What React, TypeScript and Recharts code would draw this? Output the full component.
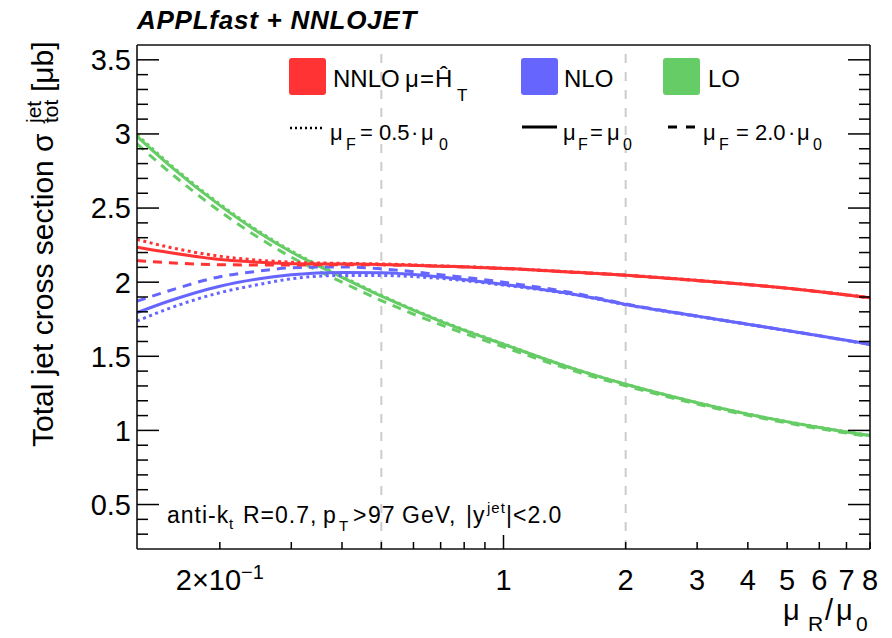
import { LineChart, Line, XAxis, YAxis, ReferenceLine } from 'recharts'

const FONT = '"Liberation Sans", Arial, Helvetica, sans-serif'

const RED = '#ff3333'
const BLUE = '#6666ff'
const GREEN = '#66cc66'

// renormalisation scale, in units of mu0
const muR = [0.125, 0.15, 0.2, 0.25, 0.3, 0.4, 0.5, 0.7, 1, 1.5, 2, 3, 4, 6, 8]

// total jet cross section [ub] for muF = 0.5, 1, 2 x mu0
const nnloF05 = [2.288, 2.236, 2.175, 2.148, 2.135, 2.127, 2.123, 2.11, 2.094, 2.068, 2.048, 2.012, 1.984, 1.937, 1.895]
const nnloF1 = [2.236, 2.2, 2.153, 2.135, 2.125, 2.122, 2.12, 2.108, 2.093, 2.067, 2.047, 2.011, 1.984, 1.936, 1.895]
const nnloF2 = [2.146, 2.131, 2.118, 2.116, 2.116, 2.118, 2.117, 2.107, 2.092, 2.066, 2.046, 2.01, 1.983, 1.936, 1.894]

const nloF05 = [1.738, 1.823, 1.929, 1.985, 2.023, 2.045, 2.045, 2.025, 1.98, 1.915, 1.848, 1.769, 1.715, 1.637, 1.58]
const nloF1 = [1.794, 1.873, 1.973, 2.023, 2.05, 2.066, 2.064, 2.035, 1.985, 1.917, 1.85, 1.771, 1.716, 1.638, 1.581]
const nloF2 = [1.872, 1.942, 2.037, 2.075, 2.097, 2.103, 2.09, 2.05, 2.0, 1.925, 1.853, 1.772, 1.717, 1.638, 1.58]

const loF05 = [2.995, 2.8, 2.527, 2.342, 2.211, 2.039, 1.911, 1.74, 1.584, 1.414, 1.312, 1.188, 1.111, 1.021, 0.966]
const loF1 = [2.983, 2.79, 2.518, 2.334, 2.204, 2.033, 1.906, 1.736, 1.581, 1.413, 1.311, 1.187, 1.11, 1.02, 0.965]
const loF2 = [2.933, 2.745, 2.478, 2.298, 2.169, 2.0, 1.876, 1.713, 1.563, 1.4, 1.301, 1.178, 1.102, 1.012, 0.958]

const xTickValues = [0.2, 0.3, 0.4, 0.5, 0.6, 0.7, 0.8, 0.9, 1, 2, 3, 4, 5, 6, 7, 8]
const xTickLabels: Record<string, string> = { '1': '1', '2': '2', '3': '3', '4': '4', '5': '5', '6': '6', '7': '7', '8': '8' }
const yMajorTicks = [0.5, 1, 1.5, 2, 2.5, 3, 3.5]
const yTickValues = Array.from({ length: 33 }, (_, i) => Math.round(3 + i) / 10)

// dashed guide lines at the scale-variation band edges
const bandEdges = [0.5, 2]

const rows = muR.map((m, i) => ({
  muR: m,
  nnloF05: nnloF05[i], nnloF1: nnloF1[i], nnloF2: nnloF2[i],
  nloF05: nloF05[i], nloF1: nloF1[i], nloF2: nloF2[i],
  loF05: loF05[i], loF1: loF1[i], loF2: loF2[i],
}))

const DOTTED = '3 3.5'
const DASHED = '9 7'

const series = [
  { key: 'loF2', color: GREEN, dash: DASHED },
  { key: 'loF1', color: GREEN, dash: undefined },
  { key: 'loF05', color: GREEN, dash: DOTTED },
  { key: 'nloF2', color: BLUE, dash: DASHED },
  { key: 'nloF1', color: BLUE, dash: undefined },
  { key: 'nloF05', color: BLUE, dash: DOTTED },
  { key: 'nnloF2', color: RED, dash: DASHED },
  { key: 'nnloF1', color: RED, dash: undefined },
  { key: 'nnloF05', color: RED, dash: DOTTED },
]

const LeftTick = (p: any) => {
  const v = p.payload.value
  const major = yMajorTicks.includes(v)
  return (
    <g>
      <line x1={p.x} x2={p.x + (major ? 22 : 11)} y1={p.y} y2={p.y} stroke="#000" strokeWidth={1.5} />
      {major && (
        <text x={p.x - 6} y={p.y} dy="0.36em" textAnchor="end" fontSize={29} fontFamily={FONT} fill="#000">
          {v}
        </text>
      )}
    </g>
  )
}

const RightTick = (p: any) => {
  const v = p.payload.value
  const major = yMajorTicks.includes(v)
  return <line x1={p.x} x2={p.x - (major ? 22 : 11)} y1={p.y} y2={p.y} stroke="#000" strokeWidth={1.5} />
}

const BottomTick = (p: any) => {
  const v = p.payload.value
  const len = v === 1 ? 14 : 7
  const label = xTickLabels[String(v)]
  return (
    <g>
      <line x1={p.x} x2={p.x} y1={p.y} y2={p.y - len} stroke="#000" strokeWidth={1.5} />
      {v === 0.2 && (
        <text x={p.x} y={p.y + 41} textAnchor="middle" fontSize={29} fontFamily={FONT} fill="#000">
          2×10<tspan dy={-11} fontSize={20}>−1</tspan>
        </text>
      )}
      {label && (
        <text x={p.x} y={p.y + 41} textAnchor="middle" fontSize={29} fontFamily={FONT} fill="#000">
          {label}
        </text>
      )}
    </g>
  )
}

const frame = { stroke: '#111', strokeWidth: 1.6 }

function Overlay() {
  const t = { fontFamily: FONT, fill: '#000' }
  return (
    <svg width={892} height={638} style={{ position: 'absolute', left: 0, top: 0, pointerEvents: 'none' }}>
      <text x={137} y={29} fontSize={26} fontWeight="bold" fontStyle="italic" letterSpacing={0.75} {...t}>
        APPLfast + NNLOJET
      </text>

      {/* legend, first row: orders */}
      <rect x={289} y={58} width={37} height={37} rx={3} fill={RED} />
      <text y={87} fontSize={24} {...t}>
        <tspan x={333}>NNLO</tspan>
        <tspan x={405}>μ</tspan>
        <tspan x={420}>=</tspan>
        <tspan x={435}>Ĥ</tspan>
        <tspan x={457} dy={14} fontSize={17}>T</tspan>
      </text>
      <rect x={521} y={58} width={37} height={37} rx={3} fill={BLUE} />
      <text x={564} y={87} fontSize={24} {...t}>NLO</text>
      <rect x={663} y={58} width={37} height={37} rx={3} fill={GREEN} />
      <text x={708} y={87} fontSize={24} {...t}>LO</text>

      {/* legend, second row: factorisation scale */}
      <line x1={290} x2={323} y1={128} y2={128} stroke="#000" strokeWidth={2.5} strokeDasharray="2 3" />
      <text y={140} fontSize={22} {...t}>
        <tspan x={330}>μ</tspan>
        <tspan x={346} dy={10} fontSize={16}>F</tspan>
        <tspan x={360} dy={-10}>=</tspan>
        <tspan x={379}>0.5</tspan>
        <tspan x={411}>·</tspan>
        <tspan x={421}>μ</tspan>
        <tspan x={439} dy={10} fontSize={16}>0</tspan>
      </text>
      <line x1={522} x2={557} y1={127} y2={127} stroke="#000" strokeWidth={3} />
      <text y={140} fontSize={22} {...t}>
        <tspan x={563}>μ</tspan>
        <tspan x={578} dy={10} fontSize={16}>F</tspan>
        <tspan x={590} dy={-10}>=</tspan>
        <tspan x={607}>μ</tspan>
        <tspan x={623} dy={10} fontSize={16}>0</tspan>
      </text>
      <line x1={668} x2={695} y1={127} y2={127} stroke="#000" strokeWidth={3} strokeDasharray="9 9" />
      <text y={140} fontSize={22} {...t}>
        <tspan x={703}>μ</tspan>
        <tspan x={719} dy={10} fontSize={16}>F</tspan>
        <tspan x={736} dy={-10}>=</tspan>
        <tspan x={755}>2.0</tspan>
        <tspan x={788}>·</tspan>
        <tspan x={797}>μ</tspan>
        <tspan x={813} dy={10} fontSize={16}>0</tspan>
      </text>

      {/* selection cuts */}
      <text y={523} fontSize={23} letterSpacing={1} {...t}>
        <tspan x={167}>anti-k</tspan>
        <tspan x={229} dy={6} fontSize={15}>t</tspan>
        <tspan x={243} dy={-6}>R=0.7,</tspan>
        <tspan x={323}>p</tspan>
        <tspan x={339} dy={8} fontSize={15}>T</tspan>
        <tspan x={353} dy={-8}>&gt;</tspan>
        <tspan x={368}>97</tspan>
        <tspan x={402}>GeV,</tspan>
        <tspan x={466}>|y</tspan>
        <tspan x={487} dy={-10} fontSize={15}>jet</tspan>
        <tspan x={506} dy={10}>|&lt;2.0</tspan>
      </text>

      {/* axis titles */}
      <text transform="translate(53, 447) rotate(-90)" fontSize={30} {...t}>
        <tspan x={0}>Total jet cross section σ</tspan>
        <tspan x={324} dy={-12} fontSize={21}>jet</tspan>
        <tspan x={324} dy={17} fontSize={21}>tot</tspan>
        <tspan x={355} dy={-5}>[μb]</tspan>
      </text>
      <text y={620} fontSize={29} {...t}>
        <tspan x={783}>μ</tspan>
        <tspan x={808} dy={11} fontSize={21}>R</tspan>
        <tspan x={825} dy={-11}>/</tspan>
        <tspan x={836}>μ</tspan>
        <tspan x={856} dy={11} fontSize={21}>0</tspan>
      </text>
    </svg>
  )
}

export default function App() {
  return (
    <div style={{ position: 'absolute', left: 0, top: 0, width: 892, height: 638, background: '#fff' }}>
      <LineChart width={892} height={638} data={rows} margin={{ top: 44, right: 21, bottom: 0, left: 0 }}>
        <XAxis
          dataKey="muR"
          type="number"
          scale="log"
          domain={[0.125, 8]}
          allowDataOverflow
          ticks={xTickValues}
          interval={0}
          tickSize={0}
          tickMargin={0}
          tickLine={false}
          axisLine={frame}
          height={89}
          tick={BottomTick}
        />
        <XAxis
          xAxisId="top"
          orientation="top"
          type="number"
          scale="log"
          domain={[0.125, 8]}
          allowDataOverflow
          height={1}
          tick={false}
          tickLine={false}
          axisLine={frame}
        />
        <YAxis
          type="number"
          domain={[0.2, 3.6]}
          allowDataOverflow
          ticks={yTickValues}
          interval={0}
          tickSize={0}
          tickMargin={0}
          tickLine={false}
          axisLine={frame}
          width={137}
          tick={LeftTick}
        />
        <YAxis
          yAxisId="right"
          orientation="right"
          type="number"
          domain={[0.2, 3.6]}
          allowDataOverflow
          ticks={yTickValues}
          interval={0}
          tickSize={0}
          tickMargin={0}
          tickLine={false}
          axisLine={frame}
          width={1}
          tick={RightTick}
        />
        {bandEdges.map((e) => (
          <ReferenceLine key={e} x={e} stroke="#cccccc" strokeWidth={2} strokeDasharray="9 9" />
        ))}
        {series.map((s) => (
          <Line
            key={s.key}
            dataKey={s.key}
            type="monotone"
            stroke={s.color}
            strokeWidth={3}
            strokeDasharray={s.dash}
            dot={false}
            activeDot={false}
            isAnimationActive={false}
          />
        ))}
      </LineChart>
      <Overlay />
    </div>
  )
}
